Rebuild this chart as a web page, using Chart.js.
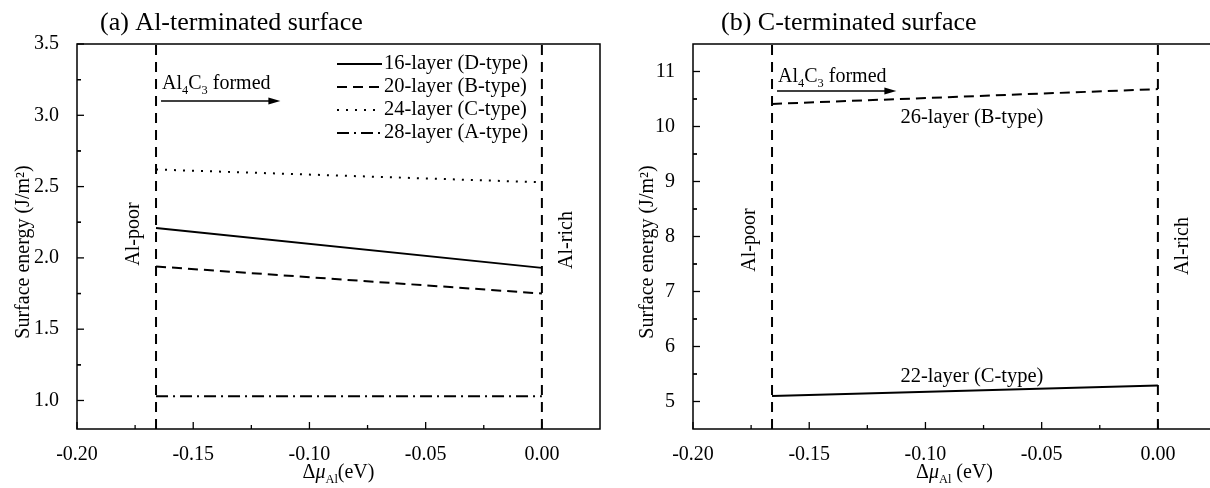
<!DOCTYPE html>
<html>
<head>
<meta charset="utf-8">
<script src="https://cdn.jsdelivr.net/npm/chart.js@4.4.1/dist/chart.umd.min.js"></script>
<style>
html, body { margin: 0; padding: 0; background: #fff; overflow: hidden; width: 1210px; height: 488px; }
.box { position: absolute; top: 0; width: 610px; height: 488px; }
</style>
</head>
<body>
<div class="box" style="left:0"><canvas id="chartA"></canvas></div>
<div class="box" style="left:616px"><canvas id="chartB"></canvas></div>
<script>
// chemical potential range (eV)
const muAl = [-0.166, 0];
const muPoor = -0.166, muRich = 0;

// (a) Al-terminated surface energies (J/m2)
const layer16 = [2.21, 1.93];
const layer20 = [1.94, 1.75];
const layer24 = [2.62, 2.53];
const layer28 = [1.03, 1.03];

// (b) C-terminated surface energies (J/m2)
const layer26 = [10.41, 10.68];
const layer22 = [5.10, 5.29];

// axes
const xRange = [-0.2, 0.025];
const xTicks = [-0.2, -0.15, -0.1, -0.05, 0];
const yRangeA = [0.8, 3.5];
const yTicksA = [1.0, 1.5, 2.0, 2.5, 3.0, 3.5];
const yRangeB = [4.5, 11.5];
const yTicksB = [5, 6, 7, 8, 9, 10, 11];

const SERIF = '"Liberation Serif", "DejaVu Serif", serif';

function pts(ys) { return muAl.map((x, i) => ({ x: x, y: ys[i] })); }
function vline(x, r) { return [{ x: x, y: r[0] }, { x: x, y: r[1] }]; }

function series(label, ys, dash) {
  return { label: label, data: pts(ys), borderColor: '#000', borderWidth: 2,
    borderDash: dash, pointRadius: 0, fill: false, showLine: true, legend: true };
}
function boundary(x, r) {
  return { label: '', data: vline(x, r), borderColor: '#000', borderWidth: 2,
    borderDash: [10, 7], pointRadius: 0, fill: false, showLine: true, legend: false };
}

// text with subscript pieces
function rich(ctx, parts, x, y, size, align) {
  let w = 0;
  parts.forEach(p => {
    ctx.font = (p.it ? 'italic ' : '') + (p.sub ? size * 0.62 : size) + 'px ' + SERIF;
    p.w = ctx.measureText(p.t).width; w += p.w;
  });
  let cx = align === 'center' ? x - w / 2 : x;
  ctx.textAlign = 'left';
  ctx.textBaseline = 'alphabetic';
  parts.forEach(p => {
    ctx.font = (p.it ? 'italic ' : '') + (p.sub ? size * 0.62 : size) + 'px ' + SERIF;
    ctx.fillText(p.t, cx, y + (p.sub ? size * 0.25 : 0));
    cx += p.w;
  });
}

function vtext(ctx, t, x, y, size) {
  ctx.save();
  ctx.translate(x, y);
  ctx.rotate(-Math.PI / 2);
  ctx.font = size + 'px ' + SERIF;
  ctx.textAlign = 'center';
  ctx.textBaseline = 'middle';
  ctx.fillText(t, 0, 0);
  ctx.restore();
}

const deco = {
  id: 'deco',
  afterDraw(chart, args, o) {
    const ctx = chart.ctx, a = chart.chartArea;
    const xs = chart.scales.x, ys = chart.scales.y;
    ctx.save();
    ctx.fillStyle = '#000';
    ctx.strokeStyle = '#000';
    // frame
    ctx.lineWidth = 1.5;
    ctx.strokeRect(a.left, a.top, a.right - a.left, a.bottom - a.top);
    // inward ticks
    ctx.lineWidth = 1.3;
    xs.ticks.forEach(t => {
      const px = xs.getPixelForValue(t.value);
      ctx.beginPath(); ctx.moveTo(px, a.bottom); ctx.lineTo(px, a.bottom - 7); ctx.stroke();
      const m = t.value + o.xMinor;
      if (m < xs.max - 1e-9) {
        const pm = xs.getPixelForValue(m);
        ctx.beginPath(); ctx.moveTo(pm, a.bottom); ctx.lineTo(pm, a.bottom - 4); ctx.stroke();
      }
    });
    ys.ticks.forEach(t => {
      const py = ys.getPixelForValue(t.value);
      ctx.beginPath(); ctx.moveTo(a.left, py); ctx.lineTo(a.left + 7, py); ctx.stroke();
      [t.value - o.yMinor, t.value + o.yMinor].forEach(m => {
        if (m > ys.min + 1e-9 && m < ys.max - 1e-9) {
          const pm = ys.getPixelForValue(m);
          ctx.beginPath(); ctx.moveTo(a.left, pm); ctx.lineTo(a.left + 4, pm); ctx.stroke();
        }
      });
    });
    // title
    ctx.font = '26px ' + SERIF;
    ctx.textAlign = 'left'; ctx.textBaseline = 'alphabetic';
    ctx.fillText(o.title, o.titleX, 30);
    // axis titles
    rich(ctx, [{ t: 'Δ' }, { t: 'μ', it: true }, { t: 'Al', sub: true }, { t: o.xGap + '(eV)' }],
      (a.left + a.right) / 2, 478, 20, 'center');
    vtext(ctx, 'Surface energy (J/m²)', o.yTitleX, 252, 20);
    // Al-poor / Al-rich
    const pPoor = xs.getPixelForValue(muPoor), pRich = xs.getPixelForValue(muRich);
    vtext(ctx, 'Al-poor', pPoor - 22, o.poorY, 20);
    vtext(ctx, 'Al-rich', pRich + 25, o.richY, 20);
    // Al4C3 formed arrow
    const ay = ys.getPixelForValue(o.arrowY);
    const ax0 = pPoor + 5, ax1 = xs.getPixelForValue(-0.1125);
    ctx.lineWidth = 1.5;
    ctx.beginPath(); ctx.moveTo(ax0, ay); ctx.lineTo(ax1 - 8, ay); ctx.stroke();
    ctx.beginPath(); ctx.moveTo(ax1, ay); ctx.lineTo(ax1 - 12, ay - 3.5); ctx.lineTo(ax1 - 12, ay + 3.5); ctx.closePath(); ctx.fill();
    rich(ctx, [{ t: 'Al' }, { t: '4', sub: true }, { t: 'C' }, { t: '3', sub: true }, { t: ' formed' }],
      pPoor + 6, ay - o.textGap, 20, 'left');
    // legend (a)
    if (o.legend) {
      let row = 0;
      chart.data.datasets.forEach(ds => {
        if (!ds.legend) return;
        const ry = 64 + row * 23;
        ctx.lineWidth = 2;
        ctx.setLineDash(ds.borderDash);
        ctx.beginPath(); ctx.moveTo(337, ry); ctx.lineTo(382, ry); ctx.stroke();
        ctx.setLineDash([]);
        ctx.font = '20.5px ' + SERIF;
        ctx.textAlign = 'left'; ctx.textBaseline = 'middle';
        ctx.fillText(ds.label, 384, ry);
        row++;
      });
    }
    // inline labels (b)
    (o.labels || []).forEach(l => {
      ctx.font = '20.5px ' + SERIF;
      ctx.textAlign = 'center'; ctx.textBaseline = 'middle';
      ctx.fillText(l.t, xs.getPixelForValue(l.x), ys.getPixelForValue(l.y));
    });
    ctx.restore();
  }
};

function makeChart(id, datasets, yRange, yTicks, yFmt, decoOpts) {
  return new Chart(document.getElementById(id), {
    type: 'scatter',
    data: { datasets: datasets },
    options: {
      responsive: true,
      maintainAspectRatio: false,
      animation: false,
      layout: { padding: { top: 44, right: 10, left: 0, bottom: 0 } },
      plugins: { legend: { display: false }, tooltip: { enabled: false }, deco: decoOpts },
      scales: {
        x: {
          type: 'linear', min: xRange[0], max: xRange[1],
          grid: { display: false }, border: { display: false },
          afterBuildTicks: s => { s.ticks = xTicks.map(v => ({ value: v })); },
          ticks: { padding: 6, color: '#000', maxRotation: 0, autoSkip: false,
            font: { family: SERIF, size: 20 },
            callback: v => (Math.abs(v) < 1e-9 ? 0 : v).toFixed(2) },
          afterFit: s => { s.height = 59; }
        },
        y: {
          type: 'linear', min: yRange[0], max: yRange[1],
          grid: { display: false }, border: { display: false },
          afterBuildTicks: s => { s.ticks = yTicks.map(v => ({ value: v })); },
          ticks: { padding: 10, color: '#000', autoSkip: false,
            font: { family: SERIF, size: 20 }, callback: yFmt },
          afterFit: s => { s.width = 77; }
        }
      }
    },
    plugins: [deco]
  });
}

makeChart('chartA', [
  series('16-layer (D-type)', layer16, []),
  series('20-layer (B-type)', layer20, [10, 6]),
  series('24-layer (C-type)', layer24, [2, 7]),
  series('28-layer (A-type)', layer28, [12, 5, 2, 5]),
  boundary(muPoor, yRangeA),
  boundary(muRich, yRangeA)
], yRangeA, yTicksA, v => v.toFixed(1), {
  title: '(a) Al-terminated surface', titleX: 100, xGap: '', xMinor: 0.025, yMinor: 0.25,
  yTitleX: 24, poorY: 234, richY: 240,
  arrowY: 3.10, textGap: 12, legend: true
});

makeChart('chartB', [
  series('26-layer (B-type)', layer26, [10, 6]),
  series('22-layer (C-type)', layer22, []),
  boundary(muPoor, yRangeB),
  boundary(muRich, yRangeB)
], yRangeB, yTicksB, v => v.toFixed(0), {
  title: '(b) C-terminated surface', titleX: 105, xGap: ' ', xMinor: 0.025, yMinor: 0.5,
  yTitleX: 32, poorY: 240, richY: 246,
  arrowY: 10.645, textGap: 9, legend: false,
  labels: [{ t: '26-layer (B-type)', x: -0.08, y: 10.17 }, { t: '22-layer (C-type)', x: -0.08, y: 5.45 }]
});
</script>
</body>
</html>
